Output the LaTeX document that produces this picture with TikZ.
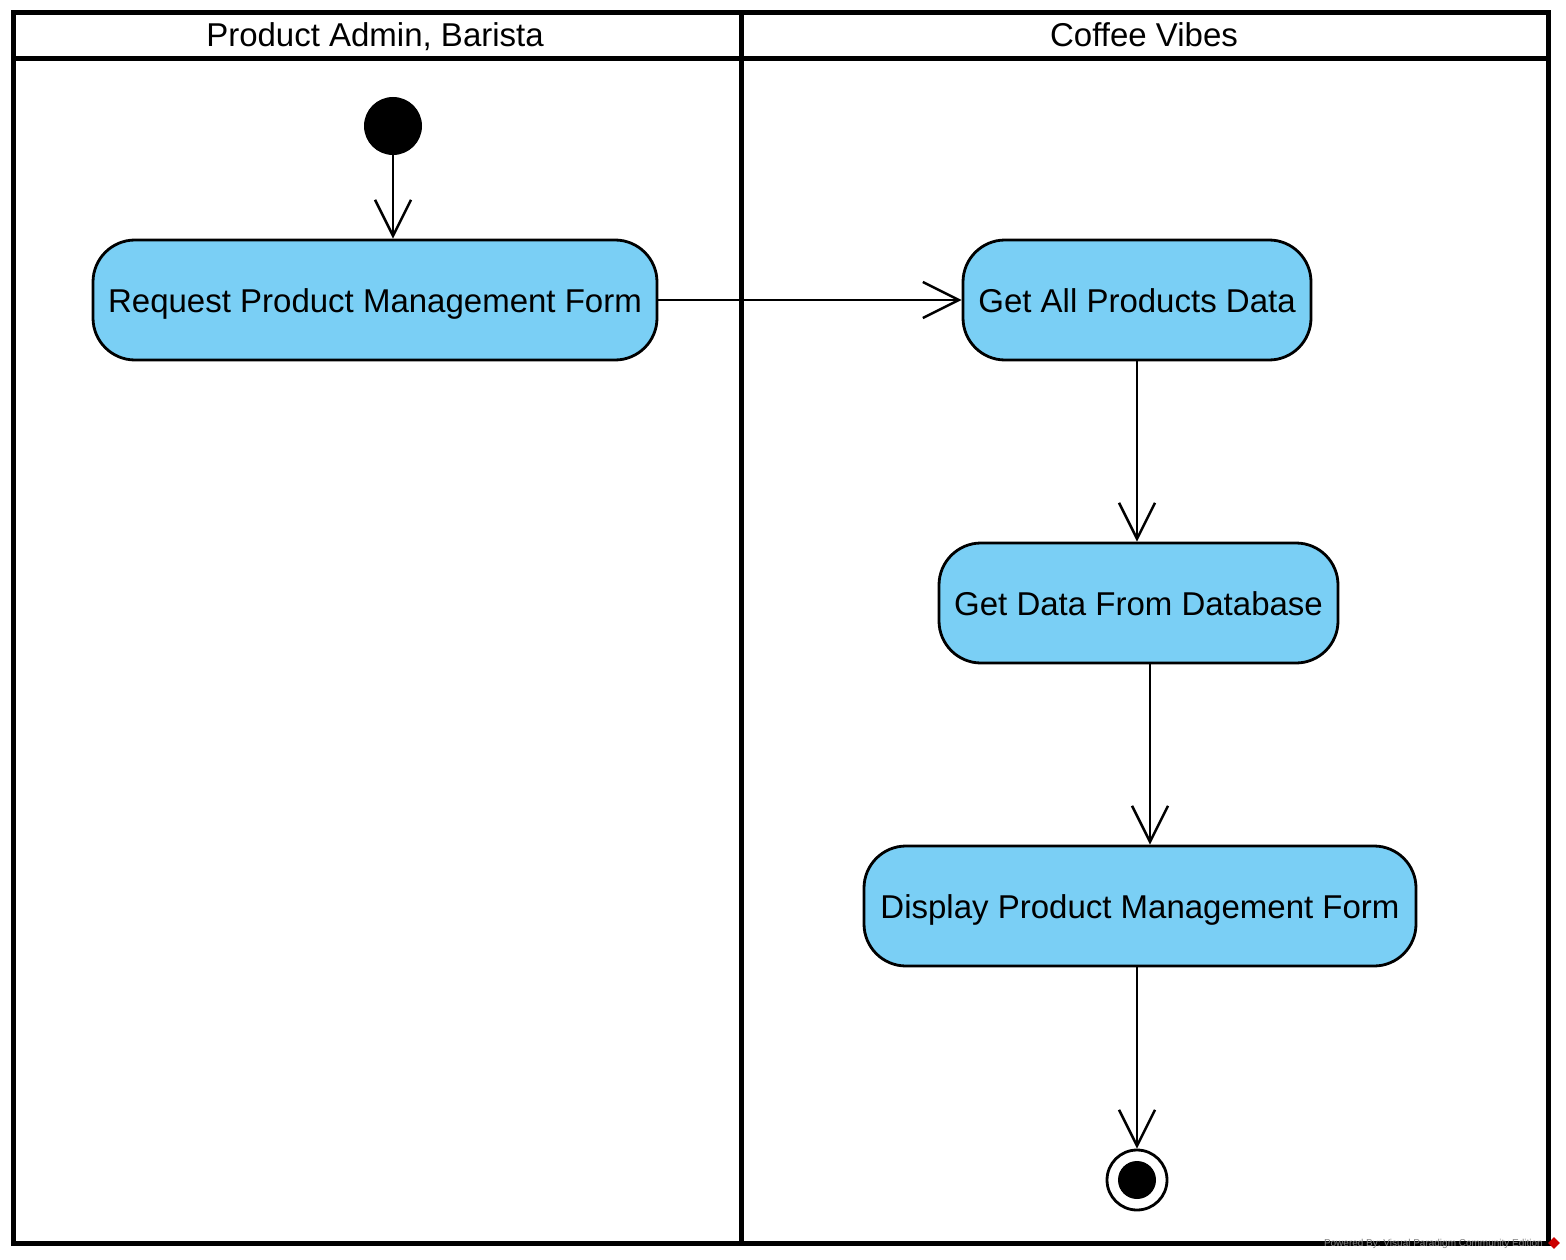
\documentclass[tikz,border=0pt]{standalone}
\usepackage{fontspec}
\setmainfont{Liberation Sans}
\usetikzlibrary{arrows.meta,shapes.geometric}
\definecolor{actblue}{RGB}{122,207,245}
\begin{document}
\begin{tikzpicture}[x=1pt,y=-1pt,
  act/.style={draw=black, line width=2.8pt, fill=actblue, rounded corners=42pt, minimum height=120pt, inner sep=0pt, font=\fontsize{33}{38}\selectfont, text height=24pt, text depth=0pt},
  flow/.style={draw, line width=2.5pt, -{Straight Barb[length=36pt,width=36pt]}},
  lane/.style={line width=5pt},
  hdr/.style={font=\fontsize{33}{38}\selectfont, inner sep=0pt, text height=24pt, text depth=0pt}]
\useasboundingbox[fill=white] (0,0) rectangle (1566,1260);
% swimlanes
\draw[lane] (13,12.5) rectangle (1548,1243);
\draw[lane] (13,58.5) -- (1548,58.5);
\draw[lane] (741,12.5) -- (741,1243);
\node[hdr] (lane1) at (375,35) {Product Admin, Barista};
\node[hdr] (lane2) at (1144,35) {Coffee Vibes};
% nodes
\node[circle, fill=black, minimum size=58pt, inner sep=0pt] (start) at (393,126) {};
\node[act, minimum width=564pt] (request) at (375,300) {Request Product Management Form};
\node[act, minimum width=348pt] (getall) at (1137,300) {Get All Products Data};
\node[act, minimum width=399pt] (getdata) at (1138.5,603) {Get Data From Database};
\node[act, minimum width=552pt] (display) at (1140,906) {Display Product Management Form};
\node[circle, draw=black, line width=2.8pt, fill=white, minimum size=60pt, inner sep=0pt] (final) at (1137,1180) {};
\fill[black] (final.center) circle (19pt);
% flows
\draw[flow] (start.south) -- (start.south |- request.north);
\draw[flow] (request.east) -- (getall.west);
\draw[flow] (getall.south) -- (getall.south |- getdata.north);
\draw[flow] ([xshift=11.5pt]getdata.south) -- ([xshift=11.5pt]getdata.south |- display.north);
\draw[flow] (display.south -| final.north) -- (final.north);
% watermark
\node[anchor=east, text=gray, font=\fontsize{10}{11}\selectfont, inner sep=0pt] (wm) at (1543,1244) {Powered By:\ Visual Paradigm Community Edition};
\node[diamond, fill=red!80!black, minimum size=12pt, inner sep=0pt, shape aspect=1, draw=none] (wmicon) at (1554,1243) {};
\end{tikzpicture}
\end{document}
